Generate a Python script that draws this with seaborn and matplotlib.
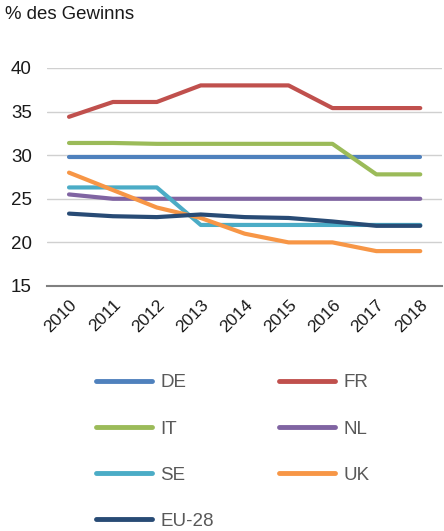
import matplotlib
matplotlib.use("Agg")
import matplotlib.pyplot as plt
import seaborn as sns
import pandas as pd

# Gewinnsteuersätze (% des Gewinns)
jahre = ["2010", "2011", "2012", "2013", "2014", "2015", "2016", "2017", "2018"]
de = [29.8, 29.8, 29.8, 29.8, 29.8, 29.8, 29.8, 29.8, 29.8]
fr = [34.4, 36.1, 36.1, 38.0, 38.0, 38.0, 35.4, 35.4, 35.4]
it = [31.4, 31.4, 31.3, 31.3, 31.3, 31.3, 31.3, 27.8, 27.8]
nl = [25.5, 25.0, 25.0, 25.0, 25.0, 25.0, 25.0, 25.0, 25.0]
se = [26.3, 26.3, 26.3, 22.0, 22.0, 22.0, 22.0, 22.0, 22.0]
uk = [28.0, 26.0, 24.0, 22.8, 21.0, 20.0, 20.0, 19.0, 19.0]
eu28 = [23.3, 23.0, 22.9, 23.2, 22.9, 22.8, 22.4, 21.9, 21.9]

laender = ["DE", "FR", "IT", "NL", "SE", "UK", "EU-28"]
werte = [de, fr, it, nl, se, uk, eu28]
farben = ["#4F81BD", "#C0504D", "#9BBB59", "#8064A2", "#4BACC6", "#F79646", "#284B75"]

rows = []
for land, reihe in zip(laender, werte):
    for j, w in zip(jahre, reihe):
        rows.append({"Jahr": j, "Wert": w, "Land": land})
df = pd.DataFrame(rows)

sns.set_style("white")
plt.rcParams["font.family"] = ["Liberation Sans", "DejaVu Sans"]

fig = plt.figure(figsize=(4.44, 5.31), dpi=100)
ax = fig.add_axes([0.106, 0.4614, 0.89, 0.4106])

sns.lineplot(data=df, x="Jahr", y="Wert", hue="Land", palette=farben,
             hue_order=laender, linewidth=3, ax=ax, legend=False)

ax.set_ylim(15, 40)
ax.set_xlim(-0.5, 8.5)
ax.set_yticks([15, 20, 25, 30, 35, 40])
ax.yaxis.grid(True, color="#D0D0D0", linewidth=1)
ax.set_axisbelow(True)
for s in ["top", "right", "left"]:
    ax.spines[s].set_visible(False)
ax.spines["bottom"].set_color("#808080")
ax.spines["bottom"].set_linewidth(1.5)
ax.set_xlabel("")
ax.set_ylabel("")
ax.tick_params(axis="y", labelsize=13.5, length=0, pad=11, colors="#1a1a1a")
ax.tick_params(axis="x", labelsize=12.5, length=0, pad=8, colors="#1a1a1a")
plt.setp(ax.get_xticklabels(), rotation=45, ha="right", rotation_mode="anchor")

fig.text(0.012, 0.972, "% des Gewinns", fontsize=13.4, color="#1a1a1a", va="center")

idx = {l: i for i, l in enumerate(laender)}
order = ["DE", "IT", "SE", "EU-28", "FR", "NL", "UK"]
hs = []
for name in order:
    h = plt.Line2D([], [], color=farben[idx[name]], linewidth=3.5, solid_capstyle="round")
    hs.append(h)
fig.legend(hs, order, loc="upper left", bbox_to_anchor=(0.178, 0.327), ncol=2,
           frameon=False, fontsize=13.5, handlelength=3.0, handletextpad=0.43,
           columnspacing=3.47, labelspacing=1.55, labelcolor="#595959")

fig.savefig("out.png", dpi=100)
